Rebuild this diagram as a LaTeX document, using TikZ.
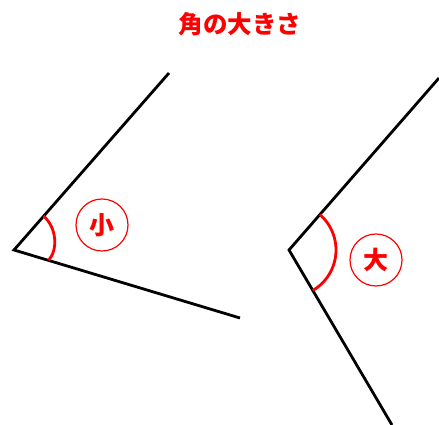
\documentclass[tikz,border=0pt]{standalone}
\usepackage{fontspec}
\newfontfamily\jp{Noto Sans CJK JP}
\tikzset{
  ray/.style={line width=2.8pt, black},
  anglearc/.style={line width=2.8pt, red},
  tag/.style={circle, draw=red, line width=1.2pt, minimum size=52pt, inner sep=0pt, text=red, font=\jp\bfseries\fontsize{25}{28}\selectfont},
  ttl/.style={text=red, font=\jp\bfseries\fontsize{24.5}{28}\selectfont}
}
\begin{document}
\begin{tikzpicture}[x=1pt,y=1pt]
\useasboundingbox (0,0) rectangle (439,425);
\node[ttl] (title) at (240,401) {角の大きさ};
% left angle
\coordinate (V1) at (14,175);
\coordinate (U1) at (169,352);
\coordinate (L1) at (240,107);
\draw[ray, line join=miter] (U1) -- (V1) -- (L1);
\draw[anglearc] (43.6,209) .. controls (57,197) and (58,175) .. (48.5,164.6);
\node[tag] (small) at (102,200) {小};
% right angle
\coordinate (V2) at (289,175);
\coordinate (U2) at (439,347);
\coordinate (L2) at (392,0);
\draw[ray, line join=miter] (U2) -- (V2) -- (L2);
\draw[anglearc] (V2) ++(48.9:47) arc[start angle=48.9, end angle=-59.5, radius=47];
\node[tag] (large) at (376,165) {大};
\end{tikzpicture}
\end{document}
